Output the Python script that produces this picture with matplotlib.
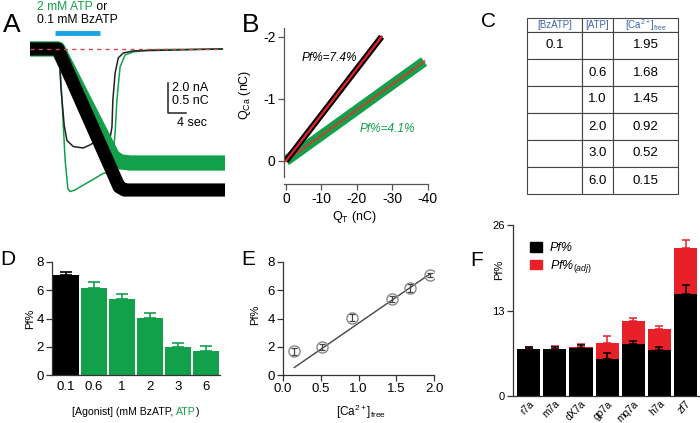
import numpy as np
import matplotlib
matplotlib.use('Agg')
import matplotlib.pyplot as plt
from matplotlib.patches import Patch

plt.rcParams['font.family'] = ['Liberation Sans', 'DejaVu Sans']
plt.rcParams['mathtext.fontset'] = 'custom'
plt.rcParams['mathtext.rm'] = 'Liberation Sans'
plt.rcParams['mathtext.it'] = 'Liberation Sans:italic'
plt.rcParams['mathtext.bf'] = 'Liberation Sans:bold'
plt.rcParams['axes.unicode_minus'] = False

GREEN = '#12a04a'
RED = '#e8202a'
BLUE = '#1ba3e6'
HDR = '#3a64b0'
AX = '#333333'

# --- A: traces (t in s, current in nA, charge in nC)
t_i_green = [0, 6.4, 7.1, 7.8, 8.4, 8.9, 10.0, 11.1, 14.0, 16.2, 17.8, 18.4, 18.9, 19.3, 20.0, 21.1, 22.9, 26.7, 42.7]
i_green = [0, 0, -3.4, -7.4, -9.3, -9.5, -9.4, -9.2, -8.7, -8.3, -8.2, -7.2, -5.6, -3.4, -1.2, -0.4, -0.2, -0.05, 0]
t_i_black = [0, 6.4, 6.9, 7.6, 8.2, 9.6, 11.8, 13.3, 14.9, 16.2, 17.8, 18.2, 18.4, 18.9, 19.6, 20.7, 22.9, 42.7]
i_black = [0, 0, -2.7, -5.1, -6.1, -6.5, -6.6, -6.4, -6.1, -5.9, -5.9, -5.2, -3.4, -1.6, -0.6, -0.27, -0.13, 0]
t_q_green = [0, 6.2, 18.4, 20.0, 22.2, 42.7]
q_green = [0, 0, -1.8, -1.88, -1.9, -1.9]
t_q_black = [0, 6.2, 19.8, 21.0, 42.7]
q_black = [0, 0, -2.3, -2.35, -2.35]
agonist_on = [5.6, 15.6]
baseline_t = [0, 42.7]

# --- B: Q_Ca vs Q_T (nC)
qt_black = [0, -27]
qca_black = [0, -2.0]
qt_green = [0, -39]
qca_green = [0, -1.6]
pf_fit = [7.4, 4.1]

# --- C: table
hdr = ['[BzATP]', '[ATP]', r'[Ca$^{2+}$]$_{\rm free}$']
bzatp_col = ['0.1', '', '', '', '', '']
atp_col = ['', '0.6', '1.0', '2.0', '3.0', '6.0']
ca_free = [1.95, 1.68, 1.45, 0.92, 0.52, 0.15]

# --- D / E: Pf% per agonist concentration
agonist_labels = ['0.1', '0.6', '1', '2', '3', '6']
pf_d = [7.1, 6.15, 5.4, 4.05, 1.97, 1.68]
pf_d_err = [0.21, 0.42, 0.30, 0.36, 0.30, 0.35]
fit_e_x = [0.15, 1.95]
fit_e_y = [0.53, 7.17]

# --- F: orthologues
species = ['r7a', 'm7a', 'dX7a', 'gp7a', 'mq7a', 'h7a', 'zf7']
pf_f = [7.1, 7.1, 7.3, 5.6, 7.95, 7.05, 15.5]
pf_f_err = [0.3, 0.4, 0.45, 1.0, 0.45, 0.45, 1.4]
pf_adj = [7.2, 7.2, 7.4, 8.1, 11.45, 10.2, 22.5]
pf_adj_err = [0.25, 0.4, 0.45, 0.95, 0.45, 0.4, 1.2]

W, H = 700, 423
fig = plt.figure(figsize=(W / 100, H / 100), dpi=100)


def box(x0, y0, x1, y1):
    return [x0 / W, 1 - y1 / H, (x1 - x0) / W, (y1 - y0) / H]


def ftext(x, y, s, **kw):
    return fig.text(x / W, 1 - y / H, s, **kw)


def style(ax, color=AX, size=9.5):
    for s in ['top', 'right']:
        ax.spines[s].set_visible(False)
    for s in ['left', 'bottom']:
        ax.spines[s].set_color(color)
        ax.spines[s].set_linewidth(0.9)
    ax.tick_params(direction='out', length=4, width=0.9, color=color,
                   labelsize=size, pad=2)


# panel letters
for letter, x, y, sz in [('A', 3, 32, 19), ('B', 242, 32, 19), ('C', 481, 27, 15),
                         ('D', 0, 265, 15), ('E', 241, 265, 15), ('F', 470, 266, 15)]:
    ftext(x, y, letter, fontsize=sz, va='baseline')

# ---------------- A
axA = fig.add_axes(box(30, 5, 225, 205))
axA.axis('off')
axA.set_xlim(0, 43.3)
axA.set_ylim(-10.4, 2.93)
axA.plot(t_i_green, i_green, color=GREEN, lw=1.1)
axA.plot(t_i_black, i_black, color='#222222', lw=1.1)
axA.plot(agonist_on, [1.07, 1.07], color=BLUE, lw=3.5, solid_capstyle='butt')
# scale bar: 4 s, 2.0 nA (= 0.5 nC)
axA.plot([30.7, 30.7, 34.7], [-2.27, -4.27, -4.27], color='#222222', lw=1.1)
axA2 = axA.twinx()
axA2.axis('off')
axA2.set_ylim(-10.4 / 4, 2.93 / 4)
axA2.plot(t_q_green, q_green, color=GREEN, lw=11, solid_joinstyle='round')
axA2.plot(t_q_black, q_black, color='black', lw=9.5, solid_joinstyle='round')
axA2.plot(baseline_t, [0, 0], color='#d24a55', lw=1, ls=(0, (3, 3)), zorder=5)

t1 = ftext(37, 10, '2 mM ATP', color=GREEN, fontsize=8.7, va='baseline')
fig.canvas.draw()
axA.annotate(' or', xy=(1, 0), xycoords=t1, va='bottom', fontsize=8.7)
ftext(37, 23, '0.1 mM BzATP', fontsize=8.7, va='baseline')
ftext(172, 91, '2.0 nA', fontsize=9, va='baseline')
ftext(172, 104, '0.5 nC', fontsize=9, va='baseline')
ftext(177, 126, '4 sec', fontsize=9, va='baseline')

# ---------------- B
axB = fig.add_axes(box(284, 28, 428, 177))
style(axB, '#555555', size=10)
axB.spines['bottom'].set_position(('outward', 5))
axB.plot(qt_green, qca_green, color=GREEN, lw=7.5, solid_capstyle='butt')
axB.plot(qt_green, qca_green, color='#b34a36', lw=1.6)
axB.plot(qt_black, qca_black, color='black', lw=4.5, solid_capstyle='butt')
axB.plot(qt_black, qca_black, color=RED, lw=1.6)
axB.set_xlim(0.56, -40.1)
axB.set_ylim(0.26, -2.14)
axB.set_xticks([0, -10, -20, -30, -40])
axB.set_yticks([0, -1, -2])
axB.text(-4.5, -1.66, 'Pf%%=%.1f%%' % pf_fit[0], fontsize=8.6, style='italic', va='center')
axB.text(-20.9, -0.51, 'Pf%%=%.1f%%' % pf_fit[1], fontsize=8.6, style='italic', va='center', color=GREEN)
axB.set_ylabel(r'Q$_{\rm Ca}$ (nC)', fontsize=9)
axB.yaxis.set_label_coords(-0.215, 0.55)
axB.set_xlabel(r'Q$_{\rm T}$ (nC)', fontsize=9)
axB.xaxis.set_label_coords(0.49, -0.215)

# ---------------- C
axC = fig.add_axes(box(527, 18, 678, 194))
axC.axis('off')
rows = [[b, a, '%.2f' % c] for b, a, c in zip(bzatp_col, atp_col, ca_free)]
tbl = axC.table(cellText=rows, colLabels=hdr, colWidths=[55 / 151, 31 / 151, 65 / 151],
                cellLoc='center', bbox=[0, 0, 1, 1])
tbl.auto_set_font_size(False)
tbl.set_fontsize(9.5)
for (r, c), cell in tbl.get_celld().items():
    cell.set_edgecolor('#444444')
    cell.set_linewidth(0.8)
    cell.set_height(14 if r == 0 else 27)
    if r == 0:
        cell.get_text().set_color(HDR)
        cell.get_text().set_fontsize(7)

# ---------------- D
axD = fig.add_axes(box(52, 262, 220, 375))
style(axD)
xd = np.arange(len(pf_d))
cols = ['black'] + [GREEN] * (len(pf_d) - 1)
axD.bar(xd, pf_d, width=0.92, color=cols)
for x, v, e, c in zip(xd, pf_d, pf_d_err, cols):
    axD.errorbar(x, v, yerr=[[0], [e]], fmt='none', ecolor=c, elinewidth=1.2,
                 capsize=4, capthick=1.2)
axD.set_xlim(-0.5, 5.5)
axD.set_ylim(0, 8)
axD.set_yticks([0, 2, 4, 6, 8])
axD.set_xticks(xd, agonist_labels)
axD.tick_params(axis='x', length=0, pad=4)
axD.set_ylabel('Pf%', fontsize=8)
axD.yaxis.set_label_coords(-0.10, 0.5)
tl = axD.text(0.12, -0.28, '[Agonist] (mM BzATP, ', transform=axD.transAxes,
              fontsize=7.6, va='top')
fig.canvas.draw()
t2 = axD.annotate('ATP', xy=(1, 0), xycoords=tl, va='bottom', fontsize=7.6, color=GREEN)
fig.canvas.draw()
axD.annotate(')', xy=(1, 0), xycoords=t2, va='bottom', fontsize=7.6)

# ---------------- E
axE = fig.add_axes(box(283, 262, 434, 375))
style(axE)
axE.plot(fit_e_x, fit_e_y, color='#444444', lw=1)
axE.errorbar(ca_free, pf_d, yerr=[e * 0.7 for e in pf_d_err], fmt='none', ecolor='#444444',
             elinewidth=0.9, capsize=2.2, capthick=0.9)
axE.plot(ca_free, pf_d, 'o', ms=8, mfc='none', mec='#888888', mew=1)
axE.set_xlim(0, 2.0)
axE.set_ylim(0, 8)
axE.set_xticks([0, 0.5, 1.0, 1.5, 2.0], ['0.0', '0.5', '1.0', '1.5', '2.0'])
axE.set_yticks([0, 2, 4, 6, 8])
axE.set_ylabel('Pf%', fontsize=8)
axE.yaxis.set_label_coords(-0.15, 0.53)
axE.set_xlabel(r'[Ca$^{2+}$]$_{\rm free}$', fontsize=8.5)
axE.xaxis.set_label_coords(0.52, -0.25)

# ---------------- F
axF = fig.add_axes(box(513, 225, 700, 396))
style(axF, size=8)
xf = np.arange(len(species))
axF.bar(xf, pf_adj, width=0.88, color=RED)
axF.errorbar(xf, pf_adj, yerr=[[0] * len(xf), pf_adj_err], fmt='none', ecolor=RED,
             elinewidth=1.1, capsize=3, capthick=1.1)
axF.bar(xf, pf_f, width=0.88, color='black')
axF.errorbar(xf, pf_f, yerr=[[0] * len(xf), pf_f_err], fmt='none', ecolor='black',
             elinewidth=1.1, capsize=3, capthick=1.1)
axF.set_xlim(-0.6, 6.55)
axF.set_ylim(0, 26)
axF.set_yticks([0, 13, 26])
axF.set_xticks(xf)
axF.set_xticklabels(species, rotation=45, ha='right', rotation_mode='anchor', fontsize=7.3)
axF.tick_params(axis='x', length=0, pad=2)
for lab in axF.get_xticklabels():
    lab.set_x(lab.get_position()[0] + 0.15)
axF.set_ylabel('Pf%', fontsize=8)
axF.yaxis.set_label_coords(-0.05, 0.74)
axF.legend([Patch(color='black'), Patch(color=RED)], ['Pf%', r'Pf%$_{(adj)}$'],
           loc='upper left', bbox_to_anchor=(0.09, 0.9), frameon=False,
           borderaxespad=0, borderpad=0, handlelength=1.0, handleheight=0.8,
           handletextpad=0.6, labelspacing=0.3, prop={'style': 'italic', 'size': 9})

fig.savefig('out.png', dpi=100)
